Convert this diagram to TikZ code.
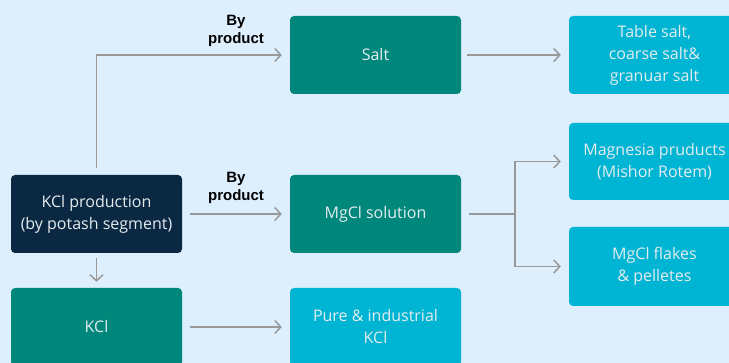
\documentclass[tikz,border=0pt]{standalone}
\usepackage{fontspec}
\setmainfont{Liberation Sans}
\newfontfamily\boxfont{Open Sans}
\usetikzlibrary{arrows.meta}
\definecolor{bgc}{HTML}{DDEEFD}
\definecolor{tealc}{HTML}{00877C}
\definecolor{cyanc}{HTML}{00B5D3}
\definecolor{navyc}{HTML}{0B2842}
\definecolor{txtc}{HTML}{E4ECEF}
\definecolor{linec}{HTML}{999999}
\tikzset{
  box/.style={rounded corners=4pt, minimum width=171pt, minimum height=78pt, inner sep=2pt,
    text=txtc, align=center, font=\boxfont\fontsize{16}{22}\selectfont},
  tealbox/.style={box, fill=tealc},
  cyanbox/.style={box, fill=cyanc},
  navybox/.style={box, fill=navyc},
  arr/.style={draw=linec, line width=1.5pt, -{Straight Barb[length=6pt,width=13pt,line width=1.5pt]}},
  ln/.style={draw=linec, line width=1.5pt},
  lbl/.style={font=\bfseries\fontsize{15}{18}\selectfont, align=center, text=black, inner sep=0pt}
}
\begin{document}
\begin{tikzpicture}[x=1pt,y=-1pt]
\fill[bgc] (0,0) rectangle (729,363);
\useasboundingbox (0,0) rectangle (729,363);
\clip (0,0) rectangle (729,363);
\node[tealbox] (salt) at (375.5,55) {Salt};
\node[cyanbox] (table) at (654.5,55) {Table salt,\\coarse salt\&\\granuar salt};
\node[cyanbox, minimum height=77pt] (mag) at (654.5,161.5) {Magnesia pruducts\\(Mishor Rotem)};
\node[cyanbox, minimum height=79pt] (flk) at (654.5,266.5) {MgCl flakes\\\& pelletes};
\node[navybox] (kp) at (96.5,214) {KCl production\\(by potash segment)};
\node[tealbox] (mgcl) at (375.5,214) {MgCl solution};
\node[tealbox] (kcl) at (96.5,327) {KCl};
\node[cyanbox] (pure) at (375.5,327) {Pure \& industrial\\KCl};
\coordinate (sp) at (515,214);
\draw[arr] ([yshift=7pt]kp.north) |- ([xshift=-8pt]salt.west);
\node[lbl] (l1) at (236,31) {By\\product};
\draw[arr] ([xshift=6pt]salt.east) -- ([xshift=-8pt]table.west);
\draw[arr] ([xshift=8pt]kp.east) -- ([xshift=-8pt]mgcl.west);
\node[lbl] (l2) at (236,188) {By\\product};
\draw[ln] ([xshift=8pt]mgcl.east) -- (sp);
\draw[arr] (sp) |- ([xshift=-8pt]mag.west);
\draw[arr] (sp) |- ([xshift=-8pt]flk.west);
\draw[arr] ([yshift=-5pt]kp.south) -- ([yshift=6pt]kcl.north);
\draw[arr] ([xshift=8pt]kcl.east) -- ([xshift=-8pt]pure.west);
\end{tikzpicture}
\end{document}
